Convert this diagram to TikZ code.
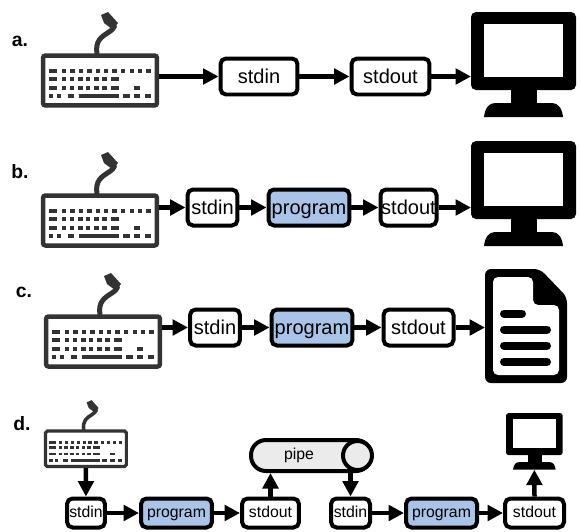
\documentclass[tikz,border=0pt]{standalone}
\usepackage{fontspec}
\setmainfont{Liberation Sans}
\usepackage{tikz}
\usetikzlibrary{arrows.meta, positioning, calc}
\usepackage{xcolor}
\definecolor{progblue}{RGB}{169,196,232}
\definecolor{pipegray}{RGB}{235,235,235}
\definecolor{keygray}{RGB}{51,51,51}
\tikzset{
  stream/.style={draw, line width=0.08cm, rounded corners=0.11cm, fill=white, inner sep=0pt,
    minimum height=0.72cm, text height=0.27cm, text depth=0.01cm, font=\fontsize{11.4}{13}\selectfont},
  small stream/.style={stream, minimum height=0.58cm, text height=0.21cm, text depth=0.02cm, font=\fontsize{9}{11}\selectfont},
  flow/.style={line width=0.09cm, -{Triangle[length=0.31cm,width=0.31cm]}},
  rowlabel/.style={font=\fontsize{11}{13}\selectfont\bfseries, inner sep=0pt}
}
% name, left, top, scale
\newcommand{\keyboard}[4]{
  \begin{scope}[shift={(#2,#3)}, scale=#4, keygray]
    \draw[line width=#4*0.1cm, line cap=round] (56,0) .. controls (54,-13) and (60,-17) .. (68,-22) .. controls (74,-26) and (75,-29) .. (71,-33);
    \fill (60,-39) -- (67,-42) -- (77,-31) -- (71,-25) -- (63,-31) -- cycle;
    \node[draw, line width=#4*0.09cm, rounded corners=#4*0.05cm, minimum width=#4*2.28cm, minimum height=#4*1cm, inner sep=0pt] (#1) at (59,26.5) {};
    \foreach \xa/\xb/\ya in {8/16/15.5, 21/25/15.5, 29.5/33.5/15.5, 38/42/15.5, 46.5/50.5/15.5, 55/59/15.5, 63/67/15.5, 71.5/75.5/15.5, 80/84/15.5, 89/93/15.5, 97/101/15.5, 105.5/109.5/15.5,
      8/16/23.5, 21/25/23.5, 29/33/23.5, 37.5/41.5/23.5, 45/49/23.5, 53.5/57.5/23.5, 61.5/65.5/23.5, 70/78/23.5,
      8/16/32, 21/25/32, 29/33/32, 37.5/41.5/32, 45/49/32, 53.5/57.5/32, 61.5/65.5/32, 70/78/32, 93/99/32,
      8/12/40.5, 16/20/40.5, 27/33/40.5, 38/78/40.5, 82.5/89/40.5, 93/99/40.5, 104/110/40.5}
      \fill (\xa-0.4,\ya-0.3) rectangle (\xb+0.4,\ya+3.9);
  \end{scope}
}
% name, left, top, scale
\newcommand{\screen}[4]{
  \begin{scope}[shift={(#2,#3)}, scale=#4]
    \node[minimum width=#4*2.1cm, minimum height=#4*2.1cm, inner sep=0pt, outer sep=0pt] (#1) at (52.5,52.5) {};
    \fill[rounded corners=#4*0.1cm] (0,0) rectangle (105,78);
    \fill[white] (13,12) rectangle (92,65);
    \fill (40,78) rectangle (66,95);
    \fill (13,105) .. controls (14,96) and (18,91) .. (24,91) -- (81,91) .. controls (87,91) and (91,96) .. (92,105) -- cycle;
  \end{scope}
}
\begin{document}
\begin{tikzpicture}[x=0.02cm, y=-0.02cm]
  \useasboundingbox (0,0) rectangle (581,531);

  \node[rowlabel] (labelA) at (20,41) {a.};
  \keyboard{kbA}{41}{54}{1}
  \screen{scrA}{471}{12}{1}
  \node[stream, minimum width=1.54cm] (stdinA) at (259,76.5) {stdin};
  \node[stream, minimum width=1.56cm] (stdoutA) at (390.5,76.5) {stdout};
  \draw[flow] (kbA.east |- stdinA) -- (stdinA);
  \draw[flow] (stdinA) -- (stdoutA);
  \draw[flow] (stdoutA) -- (stdoutA -| scrA.west);

  \node[rowlabel] (labelB) at (20,172) {b.};
  \keyboard{kbB}{41}{194}{1}
  \screen{scrB}{471}{141}{1}
  \node[stream, minimum width=1cm] (stdinB) at (212.5,207.5) {stdin};
  \node[stream, minimum width=1.62cm, fill=progblue] (progB) at (309,207.5) {program};
  \node[stream, minimum width=1.12cm] (stdoutB) at (408.5,207.5) {stdout};
  \draw[flow] (kbB.east |- stdinB) -- (stdinB);
  \draw[flow] (stdinB) -- (progB);
  \draw[flow] (progB) -- (stdoutB);
  \draw[flow] (stdoutB) -- (stdoutB -| scrB.west);

  \node[rowlabel] (labelC) at (24,292) {c.};
  \keyboard{kbC}{44}{315}{1}
  \node[stream, minimum width=1cm] (stdinC) at (215,327.5) {stdin};
  \node[stream, minimum width=1.62cm, fill=progblue] (progC) at (312,327.5) {program};
  \node[stream, minimum width=1.4cm] (stdoutC) at (418.5,327.5) {stdout};
  \node[minimum width=1.64cm, minimum height=2.28cm, inner sep=0pt, outer sep=0pt] (docC) at (526,326) {};
  \fill[rounded corners=0.12cm] (485,269) -- (540,269) -- (567,297) -- (567,383) -- (485,383) -- cycle;
  \fill[white, rounded corners=0.1cm] (493,277) -- (533,277) -- (533,305) -- (559,305) -- (559,375) -- (493,375) -- cycle;
  \draw[line width=0.16cm, line cap=round] (504,313.5) -- (522,313.5);
  \foreach \y in {329.5, 345.5, 362}
    \draw[line width=0.16cm, line cap=round] (504,\y) -- (547,\y);
  \draw[flow] (kbC.east |- stdinC) -- (stdinC);
  \draw[flow] (stdinC) -- (progC);
  \draw[flow] (progC) -- (stdoutC);
  \draw[flow] (stdoutC) -- (stdoutC -| docC.west);

  \node[rowlabel] (labelD) at (22,424) {d.};
  \keyboard{kbD}{44}{430}{0.71}
  \screen{scrD}{506}{413}{0.54}
  \node[small stream, minimum width=0.76cm] (stdinD) at (86,513) {stdin};
  \node[small stream, minimum width=1.42cm, fill=progblue] (progD) at (176.5,513) {program};
  \node[small stream, minimum width=1.14cm] (stdoutD) at (270.5,513) {stdout};
  \node[small stream, minimum width=0.78cm] (stdinE) at (350.5,513) {stdin};
  \node[small stream, minimum width=1.42cm, fill=progblue] (progE) at (441.5,513) {program};
  \node[small stream, minimum width=1.18cm] (stdoutE) at (534.5,513) {stdout};
  \node[stream, minimum width=2.4cm, minimum height=0.62cm, rounded corners=0.3cm, fill=pipegray] (pipe) at (311,455.5) {};
  \node[inner sep=0pt, font=\fontsize{9}{11}\selectfont] (pipetext) at (299,455.5) {pipe};
  \draw[flow] (kbD) -- (stdinD);
  \draw[flow] (stdinD) -- (progD);
  \draw[flow] (progD) -- (stdoutD);
  \draw[flow] (stdoutD.north) -- (stdoutD.north |- pipe.south);
  \draw[flow] (stdinE.north |- pipe.south) -- (stdinE.north);
  \node[draw, circle, line width=0.08cm, fill=pipegray, minimum size=0.58cm, inner sep=0pt] (pipeend) at (357.5,455.5) {};
  \draw[flow] (stdinE) -- (progE);
  \draw[flow] (progE) -- (stdoutE);
  \draw[flow] (stdoutE.north) -- (scrD.south);
\end{tikzpicture}
\end{document}
